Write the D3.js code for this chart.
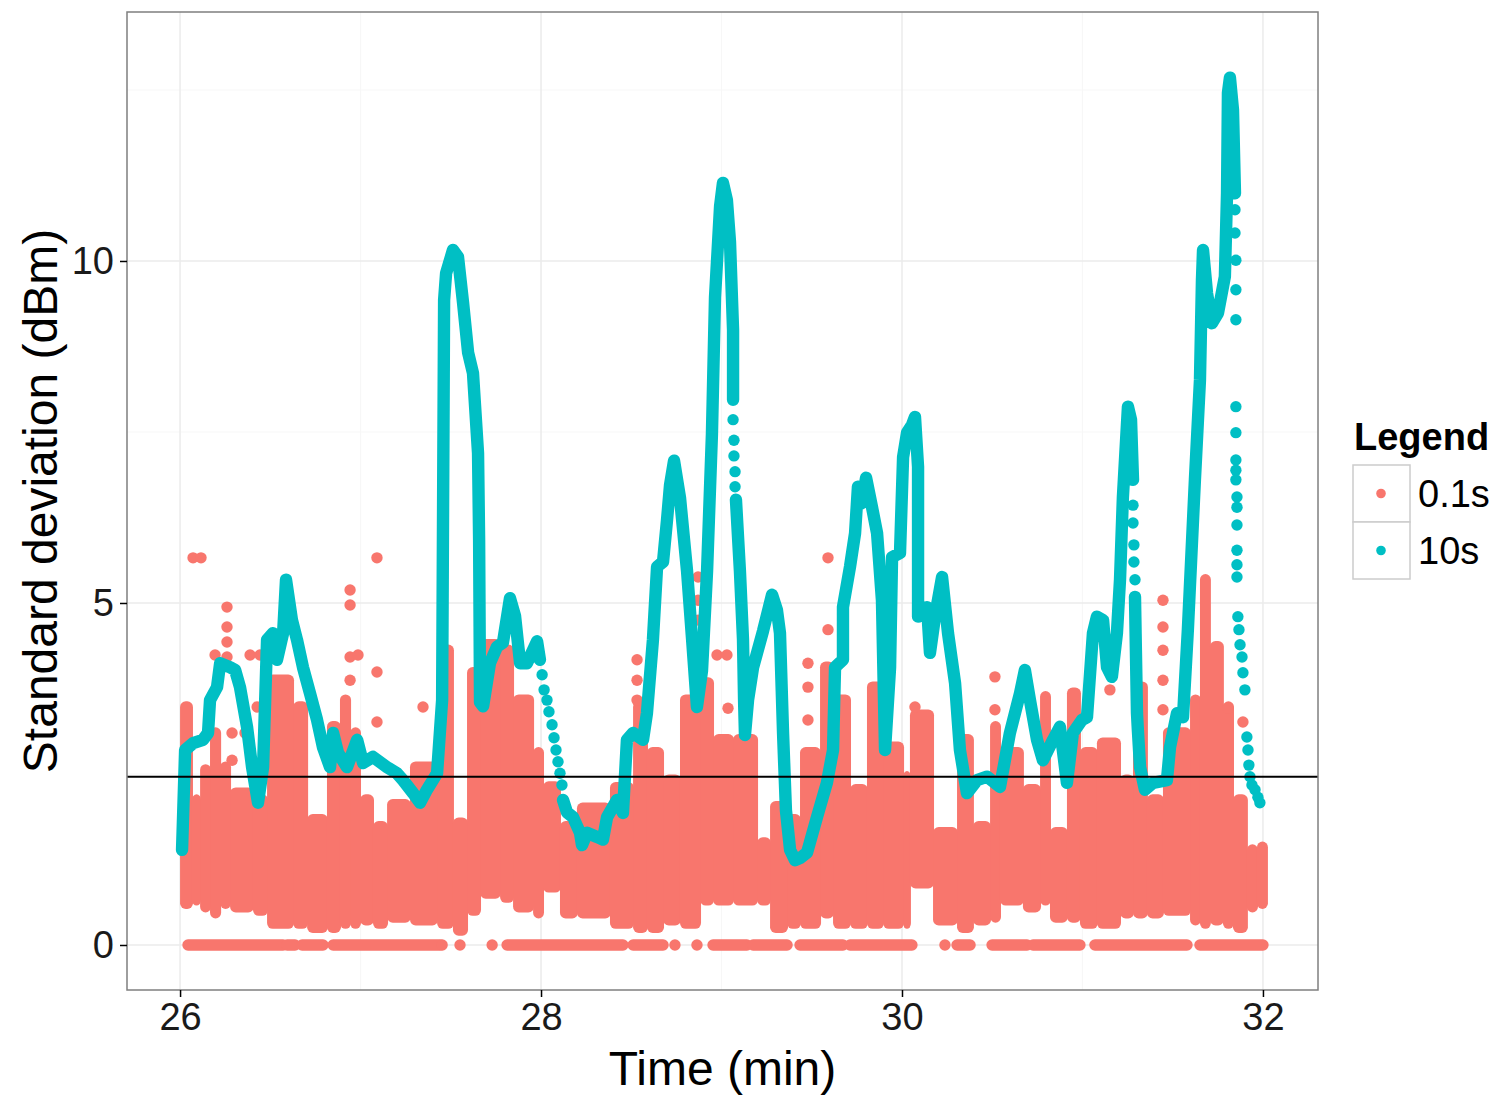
<!DOCTYPE html>
<html>
<head>
<meta charset="utf-8">
<script src="https://cdn.jsdelivr.net/npm/d3@7"></script>
<style>
  body { margin: 0; background: #fff; }
  text { font-family: "Liberation Sans", Arial, sans-serif; }
</style>
</head>
<body>
<svg id="chart"></svg>
<script>
// ---- data ----

// axis ticks
const xMajor = [26, 28, 30, 32];
const xMinor = [27, 29, 31];
const yMajor = [0, 5, 10];
const yMinor = [2.5, 7.5, 12.5];

// reference line
const threshold = 2.46;

// 0.1s series: dense cloud, as bins (edges in min) with top / bottom of the cloud (dBm)
const redEdges = [26.000, 26.066, 26.111, 26.166, 26.222, 26.277, 26.404, 26.482, 26.626, 26.704,
  26.814, 26.886, 26.942, 26.997, 27.069, 27.147, 27.274, 27.424, 27.512, 27.590,
  27.662, 27.773, 27.845, 27.956, 28.011, 28.105, 28.199, 28.382, 28.510, 28.587,
  28.676, 28.770, 28.881, 28.953, 29.064, 29.197, 29.269, 29.363, 29.435, 29.546,
  29.618, 29.712, 29.806, 29.895, 30.006, 30.044, 30.172, 30.305, 30.393, 30.488,
  30.543, 30.670, 30.765, 30.820, 30.914, 30.986, 31.080, 31.208, 31.280, 31.357,
  31.446, 31.596, 31.651, 31.706, 31.778, 31.834, 31.911, 31.967, 32.022];
const redHi = [3.48, 2.12, 2.56, 3.10, 2.60, 2.22, 2.12, 3.87, 3.48, 1.83,
  3.19, 3.58, 3.10, 2.12, 1.73, 2.05, 2.60, 4.31, 1.78, 3.98,
  4.39, 4.31, 3.58, 2.81, 2.31, 1.73, 2.00, 2.30, 3.48, 2.81,
  2.41, 3.58, 3.83, 3.00, 3.00, 1.49, 2.02, 1.83, 2.81, 4.06,
  3.58, 2.27, 3.77, 2.89, 2.46, 3.36, 1.64, 3.00, 1.73, 3.19,
  2.81, 2.27, 3.63, 1.64, 3.68, 2.81, 2.95, 2.41, 3.77, 2.12,
  3.10, 3.58, 5.34, 4.36, 3.48, 2.12, 1.39, 1.43];
const redLo = [0.61, 0.66, 0.56, 0.47, 0.61, 0.56, 0.51, 0.32, 0.32, 0.26,
  0.26, 0.32, 0.32, 0.37, 0.32, 0.41, 0.37, 0.32, 0.22, 0.51,
  0.76, 0.70, 0.56, 0.47, 0.85, 0.47, 0.47, 0.32, 0.26, 0.26,
  0.37, 0.32, 0.66, 0.66, 0.66, 0.66, 0.26, 0.32, 0.32, 0.47,
  0.32, 0.32, 0.32, 0.32, 0.32, 0.91, 0.37, 0.26, 0.37, 0.41,
  0.66, 0.56, 0.66, 0.41, 0.41, 0.32, 0.32, 0.47, 0.47, 0.47,
  0.51, 0.37, 0.32, 0.37, 0.32, 0.26, 0.56, 0.61];

// 0.1s series: isolated points above the cloud
const redOutT = [26.072, 26.116, 26.260, 26.260, 26.260, 26.260, 26.194, 26.388, 26.443, 26.427,
  26.288, 26.360, 26.288, 26.942, 26.942, 26.942, 26.942, 27.091, 26.986, 27.091,
  27.091, 27.346, 28.532, 28.532, 28.532, 28.870, 28.870, 28.870, 28.975, 29.030,
  29.036, 29.479, 29.479, 29.479, 29.590, 29.590, 30.072, 30.515, 30.515, 31.446,
  31.446, 31.446, 31.446, 31.446, 31.889, 31.806, 31.152];
const redOutV = [5.66, 5.66, 4.94, 4.65, 4.43, 4.21, 4.24, 4.24, 4.24, 3.48,
  3.10, 3.10, 2.70, 5.19, 4.97, 4.21, 3.87, 5.66, 4.24, 3.99,
  3.26, 3.48, 4.17, 3.87, 3.58, 5.38, 5.04, 4.75, 4.24, 4.24,
  3.46, 4.12, 3.77, 3.29, 5.66, 4.61, 3.48, 3.92, 3.44, 5.04,
  4.65, 4.31, 3.87, 3.44, 3.26, 3.46, 3.73];

// 0.1s series: runs of zero values (start, end in min)
const zeroStart = [26.044, 26.593, 26.676, 26.848, 27.452, 27.551, 27.729, 27.812, 28.510, 28.742,
  28.864, 28.953, 29.175, 29.435, 29.712, 30.238, 30.305, 30.499, 30.726, 31.069, 31.651];
const zeroEnd = [26.571, 26.637, 26.792, 27.440, 27.452, 27.551, 27.729, 28.454, 28.676, 28.742,
  28.864, 29.141, 29.363, 29.673, 30.055, 30.238, 30.377, 30.693, 30.986, 31.579, 32.000];

// 10s series: dense part (null = break where points thin out)
const tealT = [26.011, 26.028, 26.072, 26.127, 26.155, 26.166, 26.205, 26.222, 26.277, 26.305,
  26.332, 26.371, 26.399, 26.432, 26.460, 26.482, 26.515, 26.537, 26.571, 26.587,
  26.620, 26.648, 26.681, 26.720, 26.759, 26.792, 26.831, 26.848, 26.875, 26.925,
  26.981, 27.014, 27.069, 27.147, 27.202, 27.235, 27.291, 27.330, 27.368, 27.424,
  27.452, 27.463, 27.474, 27.512, 27.540, 27.568, 27.596, 27.623, 27.651, 27.657,
  27.662, 27.679, 27.717, 27.756, 27.789, 27.828, 27.856, 27.884, 27.922, 27.978,
  27.994, null,
  28.122, 28.144, 28.177, 28.216, 28.227, 28.255, 28.310, 28.343, 28.366, 28.421,
  28.454, 28.476, 28.510, 28.565, 28.587, 28.620, 28.643, 28.676, 28.698, 28.715,
  28.737, 28.770, 28.809, 28.837, 28.864, 28.892, 28.920, 28.947, 28.964, 28.992,
  29.008, 29.030, 29.047, 29.064, 29.064, null,
  29.080, 29.102, 29.119, 29.125, 29.130, 29.147, 29.175, 29.230, 29.280, 29.307,
  29.324, 29.341, 29.357, 29.380, 29.407, 29.435, 29.474, 29.529, 29.584, 29.618,
  29.629, 29.673, 29.673, 29.712, 29.740, 29.756, 29.778, 29.801, 29.834, 29.862,
  29.889, 29.906, 29.934, 29.945, 29.989, 30.006, 30.028, 30.055, 30.072, 30.089,
  30.089, 30.139, 30.155, 30.183, 30.222, 30.255, 30.294, 30.321, 30.360, 30.416,
  30.471, 30.543, 30.598, 30.654, 30.681, 30.709, 30.748, 30.781, 30.837, 30.875,
  30.914, 30.947, 30.997, 31.025, 31.058, 31.080, 31.114, 31.136, 31.163, 31.191,
  31.208, 31.224, 31.252, 31.269, 31.280, null,
  31.291, 31.296, 31.302, 31.307, 31.319, 31.346, 31.391, 31.468, 31.485, 31.524,
  31.557, 31.584, 31.623, 31.651, 31.662, 31.668, 31.690, 31.717, 31.751, 31.789,
  31.801, 31.806, 31.817, 31.834, 31.845];
const tealV = [1.39, 2.85, 2.95, 3.00, 3.10, 3.58, 3.77, 4.12, 4.06, 4.02,
  3.77, 3.19, 2.60, 2.08, 2.60, 4.46, 4.56, 4.17, 4.56, 5.34,
  4.75, 4.46, 4.06, 3.68, 3.29, 2.89, 2.60, 3.10, 2.81, 2.60,
  3.00, 2.66, 2.75, 2.60, 2.51, 2.41, 2.22, 2.08, 2.27, 2.51,
  3.58, 9.43, 9.82, 10.16, 10.06, 9.39, 8.66, 8.36, 7.19, 5.92,
  3.55, 3.49, 4.12, 4.36, 4.42, 5.07, 4.81, 4.12, 4.12, 4.44,
  4.17, null,
  2.12, 1.94, 1.87, 1.64, 1.46, 1.64, 1.58, 1.54, 1.87, 2.12,
  1.93, 3.00, 3.10, 3.00, 3.39, 4.46, 5.53, 5.60, 6.21, 6.73,
  7.08, 6.54, 5.47, 4.47, 3.48, 4.01, 5.47, 7.47, 9.47, 10.80,
  11.14, 10.89, 10.28, 8.99, 7.97, null,
  6.51, 5.47, 4.47, 3.58, 3.07, 3.58, 4.06, 4.59, 5.12, 4.90,
  4.56, 3.10, 1.97, 1.39, 1.24, 1.27, 1.35, 1.87, 2.37, 2.85,
  4.06, 4.17, 4.94, 5.53, 6.02, 6.70, 6.46, 6.83, 6.40, 6.02,
  5.04, 2.85, 4.06, 5.67, 5.73, 7.13, 7.49, 7.60, 7.72, 6.99,
  4.80, 4.94, 4.27, 4.80, 5.38, 4.56, 3.83, 2.85, 2.22, 2.41,
  2.46, 2.31, 3.10, 3.68, 4.02, 3.58, 3.00, 2.70, 3.00, 3.19,
  2.37, 3.10, 3.29, 3.33, 4.56, 4.80, 4.75, 4.06, 3.92, 4.56,
  5.34, 6.55, 7.87, 7.68, 6.80, null,
  5.09, 4.31, 3.39, 3.14, 2.60, 2.27, 2.37, 2.41, 2.89, 3.39,
  3.33, 4.61, 6.80, 8.26, 9.72, 10.16, 9.53, 9.09, 9.24, 9.77,
  10.99, 12.46, 12.68, 12.21, 10.99];

// 10s series: points where the trace thins out
const sparseT = [28.006, 28.017, 28.033, 28.044, 28.061, 28.072, 28.083, 28.094, 28.105, 28.116,
  29.064, 29.069, 29.069, 29.075, 29.075,
  31.280, 31.280, 31.285, 31.285, 31.291,
  31.845, 31.845, 31.850, 31.850, 31.850, 31.850, 31.850, 31.850, 31.850, 31.850,
  31.856, 31.856, 31.856, 31.856, 31.856, 31.856, 31.861, 31.867, 31.873, 31.884,
  31.889, 31.900, 31.911, 31.917, 31.922, 31.928, 31.939, 31.956, 31.972, 31.983];
const sparseV = [3.95, 3.73, 3.58, 3.41, 3.22, 3.03, 2.85, 2.68, 2.51, 2.34,
  7.68, 7.38, 7.15, 6.92, 6.70,
  6.43, 6.17, 5.85, 5.60, 5.34,
  10.75, 10.41, 10.01, 9.58, 9.14, 7.87, 7.49, 7.09, 6.94, 6.80,
  6.55, 6.40, 6.14, 5.77, 5.56, 5.38, 4.80, 4.61, 4.39, 4.21,
  3.98, 3.73, 3.04, 2.85, 2.63, 2.46, 2.34, 2.27, 2.16, 2.08];

// legend
const legendLabels = ["0.1s", "10s"];
const colors = ["#F8766D", "#00BFC4"];

// ---- chart ----
const width = 1499, height = 1096;
const panel = { left: 127, right: 1318, top: 12, bottom: 990 };

const svg = d3.select("#chart")
  .attr("width", width)
  .attr("height", height);

svg.append("rect").attr("width", width).attr("height", height).attr("fill", "#fff");

const x = d3.scaleLinear().domain([25.706, 32.305]).range([panel.left, panel.right]);
const y = d3.scaleLinear().domain([-0.658, 13.64]).range([panel.bottom, panel.top]);

svg.append("clipPath").attr("id", "clip")
  .append("rect")
  .attr("x", panel.left).attr("y", panel.top)
  .attr("width", panel.right - panel.left)
  .attr("height", panel.bottom - panel.top);

// grid
const grid = svg.append("g");
grid.selectAll("line.xmin").data(xMinor).join("line")
  .attr("x1", d => x(d)).attr("x2", d => x(d))
  .attr("y1", panel.top).attr("y2", panel.bottom)
  .attr("stroke", "#f7f7f7").attr("stroke-width", 1.2);
grid.selectAll("line.ymin").data(yMinor).join("line")
  .attr("y1", d => y(d)).attr("y2", d => y(d))
  .attr("x1", panel.left).attr("x2", panel.right)
  .attr("stroke", "#f7f7f7").attr("stroke-width", 1.2);
grid.selectAll("line.xmaj").data(xMajor).join("line")
  .attr("x1", d => x(d)).attr("x2", d => x(d))
  .attr("y1", panel.top).attr("y2", panel.bottom)
  .attr("stroke", "#ebebeb").attr("stroke-width", 1.5);
grid.selectAll("line.ymaj").data(yMajor).join("line")
  .attr("y1", d => y(d)).attr("y2", d => y(d))
  .attr("x1", panel.left).attr("x2", panel.right)
  .attr("stroke", "#ebebeb").attr("stroke-width", 1.5);

const plot = svg.append("g").attr("clip-path", "url(#clip)");
const R = 5.7;

// 0.1s cloud
plot.append("g").selectAll("rect").data(redHi).join("rect")
  .attr("x", (d, i) => x(redEdges[i]))
  .attr("width", (d, i) => x(redEdges[i + 1]) - x(redEdges[i]) + 1)
  .attr("y", d => y(d) - R)
  .attr("height", (d, i) => y(redLo[i]) - y(d) + 2 * R)
  .attr("rx", R)
  .attr("fill", colors[0]);

// zero runs
plot.append("g").selectAll("line").data(zeroStart).join("line")
  .attr("x1", d => x(d))
  .attr("x2", (d, i) => x(zeroEnd[i]) + 0.01)
  .attr("y1", y(0)).attr("y2", y(0))
  .attr("stroke", colors[0])
  .attr("stroke-width", 2 * R)
  .attr("stroke-linecap", "round");

// outliers
plot.append("g").selectAll("circle").data(redOutT).join("circle")
  .attr("cx", d => x(d))
  .attr("cy", (d, i) => y(redOutV[i]))
  .attr("r", R)
  .attr("fill", colors[0]);

// 10s trace
const tealPts = tealT.map((t, i) => ({ t: t, v: tealV[i] }));
const line = d3.line()
  .defined(d => d.t != null && d.v != null)
  .x(d => x(d.t))
  .y(d => y(d.v));

plot.append("path")
  .datum(tealPts)
  .attr("d", line)
  .attr("fill", "none")
  .attr("stroke", colors[1])
  .attr("stroke-width", 2 * R + 1)
  .attr("stroke-linecap", "round")
  .attr("stroke-linejoin", "round");

plot.append("g").selectAll("circle").data(sparseT).join("circle")
  .attr("cx", d => x(d))
  .attr("cy", (d, i) => y(sparseV[i]))
  .attr("r", R)
  .attr("fill", colors[1]);

// threshold line
svg.append("line")
  .attr("x1", panel.left).attr("x2", panel.right)
  .attr("y1", y(threshold)).attr("y2", y(threshold))
  .attr("stroke", "#000").attr("stroke-width", 2);

// panel border
svg.append("rect")
  .attr("x", panel.left).attr("y", panel.top)
  .attr("width", panel.right - panel.left)
  .attr("height", panel.bottom - panel.top)
  .attr("fill", "none")
  .attr("stroke", "#7f7f7f")
  .attr("stroke-width", 1.5);

// axes
const xAxis = d3.axisBottom(x).tickValues(xMajor).tickSize(7).tickPadding(6).tickFormat(d3.format("d"));
const yAxis = d3.axisLeft(y).tickValues(yMajor).tickSize(7).tickPadding(6).tickFormat(d3.format("d"));

const gx = svg.append("g").attr("transform", `translate(0,${panel.bottom})`).call(xAxis);
const gy = svg.append("g").attr("transform", `translate(${panel.left},0)`).call(yAxis);
[gx, gy].forEach(g => {
  g.select(".domain").remove();
  g.selectAll(".tick line").attr("stroke", "#000").attr("stroke-width", 1.5);
  g.selectAll(".tick text")
    .attr("fill", "#1a1a1a")
    .style("font-size", "38px")
    .style("font-family", "'Liberation Sans', Arial, sans-serif");
});

// axis titles
svg.append("text")
  .attr("x", (panel.left + panel.right) / 2)
  .attr("y", 1085)
  .attr("text-anchor", "middle")
  .style("font-size", "48px")
  .text("Time (min)");

svg.append("text")
  .attr("transform", `translate(57,${(panel.top + panel.bottom) / 2}) rotate(-90)`)
  .attr("text-anchor", "middle")
  .style("font-size", "48px")
  .text("Standard deviation (dBm)");

// legend
const legend = svg.append("g").attr("transform", "translate(1353,0)");
legend.append("text")
  .attr("x", 1).attr("y", 450)
  .style("font-size", "38px")
  .style("font-weight", "bold")
  .text("Legend");

const keys = legend.selectAll("g.key").data(legendLabels).join("g")
  .attr("transform", (d, i) => `translate(0,${465 + i * 57})`);
keys.append("rect")
  .attr("width", 57).attr("height", 57)
  .attr("fill", "#fff")
  .attr("stroke", "#cccccc")
  .attr("stroke-width", 1.5);
keys.append("circle")
  .attr("cx", 28).attr("cy", 28.5)
  .attr("r", 4.8)
  .attr("fill", (d, i) => colors[i]);
keys.append("text")
  .attr("x", 65).attr("y", 42)
  .style("font-size", "38px")
  .text(d => d);
</script>
</body>
</html>
